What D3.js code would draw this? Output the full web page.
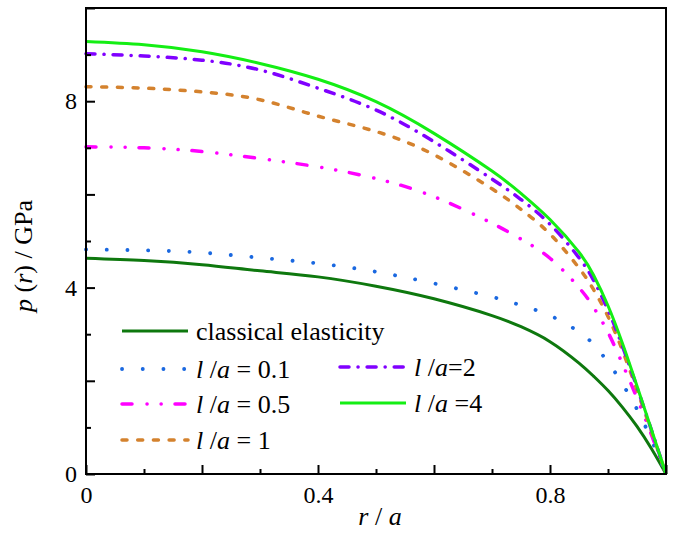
<!DOCTYPE html>
<html>
<head>
<meta charset="utf-8">
<script src="https://cdn.jsdelivr.net/npm/d3@7"></script>
<style>
  body { margin: 0; background: #fff; }
</style>
</head>
<body>
<div id="chart"></div>
<script>
// Values (r/a on x, p(r) in GPa on y)
const rValues = [0, 0.1, 0.2, 0.3, 0.4, 0.5, 0.6, 0.7, 0.75, 0.8, 0.85, 0.875, 0.9, 0.925, 0.95, 0.975, 1.0];
const classical = [4.63, 4.58, 4.49, 4.36, 4.23, 4.03, 3.76, 3.40, 3.16, 2.84, 2.38, 2.10, 1.79, 1.43, 1.02, 0.54, 0];
const la01 = [4.82, 4.80, 4.75, 4.64, 4.52, 4.34, 4.09, 3.80, 3.62, 3.40, 3.05, 2.78, 2.40, 1.93, 1.39, 0.73, 0];
const la05 = [7.02, 7.00, 6.92, 6.77, 6.59, 6.34, 5.95, 5.38, 5.04, 4.63, 4.00, 3.58, 3.04, 2.36, 1.63, 0.84, 0];
const la1 = [8.31, 8.28, 8.20, 8.03, 7.68, 7.35, 6.85, 6.12, 5.68, 5.15, 4.42, 3.96, 3.38, 2.65, 1.80, 0.91, 0];
const la2 = [9.02, 8.97, 8.88, 8.67, 8.28, 7.81, 7.13, 6.33, 5.89, 5.36, 4.64, 4.16, 3.52, 2.74, 1.86, 0.94, 0];
const la4 = [9.28, 9.21, 9.06, 8.81, 8.47, 7.99, 7.31, 6.50, 6.02, 5.46, 4.76, 4.27, 3.61, 2.80, 1.89, 0.95, 0];

// Tick values
const xMajorTicks = [0, 0.2, 0.4, 0.6, 0.8, 1.0];
const xMinorTicks = [0.1, 0.3, 0.5, 0.7, 0.9];
const xTickLabels = [0, 0.4, 0.8];
const yMajorTicks = [0, 2, 4, 6, 8, 10];
const yMinorTicks = [1, 3, 5, 7, 9];
const yTickLabels = [0, 4, 8];

const serif = "Liberation Serif";

// Series styles
const series = [
    { values: classical, color: "#0e780e", width: 3, dash: null },
    { values: la01, color: "#1a68e0", width: 3.8, dash: "0.1 20.6" },
    { values: la05, color: "#ff00ff", width: 3.5, dash: "10 15 0.1 14 0.1 13.8" },
    { values: la1, color: "#d4822e", width: 3.5, dash: "5 10.7" },
    { values: la2, color: "#8000ff", width: 3.5, dash: "9 9 0.1 9" },
    { values: la4, color: "#14ee14", width: 3, dash: null }
];

// Set dimensions and margins
const margin = { top: 8, right: 34, bottom: 64, left: 86 };
const width = 700 - margin.left - margin.right;
const height = 538 - margin.top - margin.bottom;

const svg = d3.select("#chart")
    .append("svg")
    .attr("width", 700)
    .attr("height", 538)
    .attr("font-family", serif)
    .append("g")
    .attr("transform", `translate(${margin.left},${margin.top})`);

const x = d3.scaleLinear().domain([0, 1]).range([0, width]);
const y = d3.scaleLinear().domain([0, 10]).range([height, 0]);

// Curves
const line = d3.line()
    .x(d => x(d[0]))
    .y(d => y(d[1]))
    .curve(d3.curveNatural);

series.forEach(s => {
    svg.append("path")
        .datum(rValues.map((r, i) => [r, s.values[i]]))
        .attr("fill", "none")
        .attr("stroke", s.color)
        .attr("stroke-width", s.width)
        .attr("stroke-linecap", s.dash ? "round" : "butt")
        .attr("stroke-dasharray", s.dash)
        .attr("d", line);
});

// Axes with inward ticks
function styleAxis(g) {
    g.attr("font-family", serif).attr("font-size", 24);
    g.select(".domain").remove();
    g.selectAll(".tick line").attr("stroke", "#000").attr("stroke-width", 2);
    g.selectAll(".tick text").attr("font-family", serif).attr("fill", "#000");
}

svg.append("g")
    .attr("transform", `translate(0,${height})`)
    .call(d3.axisBottom(x).tickValues(xMajorTicks).tickSize(-9).tickPadding(12)
        .tickFormat(d => xTickLabels.some(v => Math.abs(v - d) < 1e-9) ? d3.format("")(d) : ""))
    .call(styleAxis);

svg.append("g")
    .attr("transform", `translate(0,${height})`)
    .call(d3.axisBottom(x).tickValues(xMinorTicks).tickSize(-5).tickFormat(""))
    .call(styleAxis);

svg.append("g")
    .call(d3.axisLeft(y).tickValues(yMajorTicks).tickSize(-9).tickPadding(9)
        .tickFormat(d => yTickLabels.includes(d) ? d : ""))
    .call(styleAxis);

svg.append("g")
    .call(d3.axisLeft(y).tickValues(yMinorTicks).tickSize(-5).tickFormat(""))
    .call(styleAxis);

// Frame
svg.append("rect")
    .attr("x", 0).attr("y", 0)
    .attr("width", width).attr("height", height)
    .attr("fill", "none")
    .attr("stroke", "#000")
    .attr("stroke-width", 2);

// Axis titles
const xTitle = svg.append("text")
    .attr("x", width / 2 + 4)
    .attr("y", height + 51)
    .attr("text-anchor", "middle")
    .attr("font-family", serif)
    .attr("font-size", 26);
xTitle.append("tspan").attr("font-style", "italic").text("r");
xTitle.append("tspan").text(" / ");
xTitle.append("tspan").attr("font-style", "italic").text("a");

const yTitle = svg.append("text")
    .attr("transform", `translate(${32 - margin.left},${256 - margin.top}) rotate(-90)`)
    .attr("text-anchor", "middle")
    .attr("font-family", serif)
    .attr("font-size", 26);
yTitle.append("tspan").attr("font-style", "italic").text("p");
yTitle.append("tspan").text(" (");
yTitle.append("tspan").attr("font-style", "italic").text("r");
yTitle.append("tspan").text(") / GPa");

// Legend
const legendItems = [
    { s: 0, x: 122, y: 331, text: ["classical elasticity"] },
    { s: 1, x: 122, y: 369, text: ["l", " /", "a", " = 0.1"] },
    { s: 2, x: 122, y: 404, text: ["l", " /", "a", " = 0.5"] },
    { s: 3, x: 122, y: 440, text: ["l", " /", "a", " = 1"] },
    { s: 4, x: 340, y: 367, text: ["l", " /", "a", "=2"] },
    { s: 5, x: 340, y: 403, text: ["l", " /", "a", " =4"] }
];

const legend = svg.append("g")
    .attr("transform", `translate(${-margin.left},${-margin.top})`);

legendItems.forEach(item => {
    const s = series[item.s];
    legend.append("line")
        .attr("x1", item.x).attr("x2", item.x + 66)
        .attr("y1", item.y).attr("y2", item.y)
        .attr("stroke", s.color)
        .attr("stroke-width", s.width)
        .attr("stroke-linecap", s.dash ? "round" : "butt")
        .attr("stroke-dasharray", s.dash);
    const t = legend.append("text")
        .attr("x", item.x + 74)
        .attr("y", item.y + 9)
        .attr("font-family", serif)
        .attr("font-size", 26);
    item.text.forEach((part, i) => {
        const italic = item.text.length > 1 && (i === 0 || i === 2);
        t.append("tspan").attr("font-style", italic ? "italic" : "normal").text(part);
    });
});
</script>
</body>
</html>
